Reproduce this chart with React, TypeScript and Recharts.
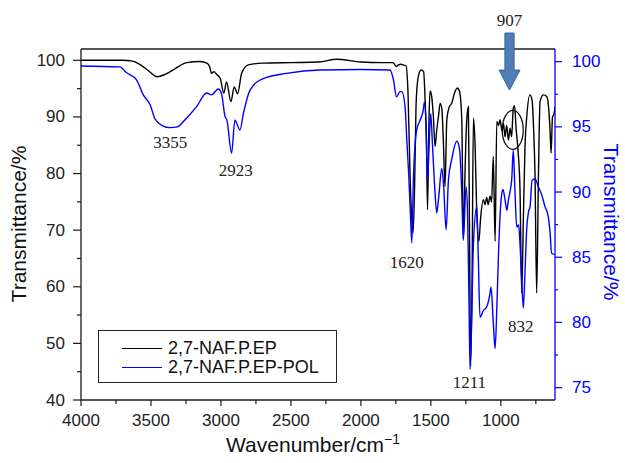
import React from 'react';
import { LineChart, Line, XAxis, YAxis, ReferenceDot, ReferenceLine } from 'recharts';

// wavenumber (cm-1) and transmittance (%)
const blackWn = [
  4000, 3700, 3640, 3580, 3520, 3455, 3400, 3330, 3245, 3150, 3100, 3080, 3067, 3050, 3030, 3005,
  2979, 2960, 2929, 2905, 2881, 2852, 2805, 2700, 2500, 2300, 2174, 2000, 1850, 1771, 1745, 1732,
  1715, 1699, 1677, 1663, 1649, 1634, 1627, 1616, 1606, 1591, 1570, 1552, 1541, 1531, 1524, 1513,
  1506, 1494, 1482, 1470, 1458, 1446, 1434, 1422, 1411, 1399, 1386, 1368, 1351, 1334, 1311, 1295,
  1279, 1268, 1256, 1245, 1232, 1224, 1216, 1206, 1196, 1184, 1172, 1157, 1145, 1125, 1113, 1101,
  1091, 1077, 1066, 1054, 1041, 1029, 1016, 1006, 991, 981, 970, 958, 946, 934, 923, 911,
  902, 891, 877, 863, 851, 839, 827, 815, 792, 777, 766, 756, 744, 731, 720, 696,
  672, 660, 649, 641, 631, 620, 613,
];
const blackT = [
  100, 100, 99.9, 99.3, 98.2, 97.1, 97.5, 98.5, 99.6, 99.8, 99.5, 98.8, 97.7, 98.0, 97.5, 96.8,
  94.2, 96.2, 92.7, 95.3, 94.1, 97.7, 99.2, 99.5, 99.6, 99.7, 100.2, 99.7, 99.6, 99.6, 98.9, 99.2,
  99.3, 99.2, 99.0, 94, 80, 71, 69.5, 78, 92, 97, 98.3, 98, 93, 85, 73.6, 90,
  94.6, 93.6, 90, 84.8, 87.7, 90, 92.4, 91.5, 85.9, 77.7, 89.5, 91.8, 92.4, 94, 95.1, 94.5,
  89.5, 68.5, 80, 88.9, 91.8, 70, 46, 60, 89.8, 85, 73, 68, 72, 75.4, 74.5, 75.8,
  74.5, 76, 75, 83, 68, 89.2, 88.5, 89.5, 87.5, 88.8, 86.5, 88.5, 85.9, 88, 86.5, 91.5,
  92, 88, 84, 77.1, 58.9, 72, 85, 90, 93.9, 93, 88, 80, 58.9, 80, 92.7, 93.9,
  93.6, 92, 88, 83.6, 90, 90.5, 91.8,
];

const blueWn = [
  4000, 3721, 3680, 3603, 3555, 3506, 3471, 3420, 3364, 3310, 3269, 3174, 3102, 3068, 3019, 2997,
  2971, 2957, 2924, 2900, 2864, 2840, 2793, 2698, 2531, 2293, 2000, 1793, 1769, 1745, 1721, 1708,
  1684, 1672, 1659, 1645, 1636, 1625, 1601, 1577, 1554, 1546, 1534, 1525, 1513, 1501, 1488, 1470,
  1458, 1445, 1422, 1409, 1391, 1374, 1351, 1315, 1295, 1281, 1268, 1249, 1238, 1228, 1220, 1209,
  1196, 1172, 1161, 1149, 1125, 1101, 1081, 1070, 1054, 1041, 1029, 1016, 1004, 994, 985, 971,
  957, 947, 935, 922, 911, 899, 886, 873, 863, 852, 839, 827, 815, 802, 791, 777,
  755, 732, 708, 685, 661, 649, 637, 613,
];
const blueT = [
  99.67, 99.6, 99.2, 98.6, 97.45, 96.7, 95.6, 95.1, 94.94, 95.0, 95.4, 96.55, 97.6, 97.45, 97.9, 97.6,
  95.8, 95.5, 92.98, 95.5, 94.76, 96.0, 97.8, 98.7, 99.1, 99.36, 99.4, 99.36, 98.7, 97.3, 97.7, 97.7,
  96.5, 94.0, 91.5, 88, 86.1, 90.9, 94.8, 95.5, 96.3, 96.9, 95, 90.9, 93.5, 96.0, 93.5, 89.9,
  88.4, 89.5, 91.8, 90.5, 87.1, 91, 92.5, 93.9, 93.3, 90.5, 86.3, 90.4, 88.5, 82, 76.4, 80,
  86, 88.9, 85, 80.4, 80.9, 81.2, 82, 82.7, 80, 78.0, 81, 85.5, 88.5, 89.8, 90.2, 89.5,
  88.6, 89.3, 90, 91, 93.2, 90, 87.3, 87.5, 86, 83.5, 81.1, 84, 87.2, 88.5, 88.9, 90.9,
  91.0, 90.4, 89.8, 88.9, 88.1, 87, 85.3, 85.2,
];

const xTicks = [4000, 3750, 3500, 3250, 3000, 2750, 2500, 2250, 2000, 1750, 1500, 1250, 1000, 750];
const leftTicks = [40, 45, 50, 55, 60, 65, 70, 75, 80, 85, 90, 95, 100];
const rightTicks = [75, 77.5, 80, 82.5, 85, 87.5, 90, 92.5, 95, 97.5, 100];

// peak labels, placed in data coordinates of the left axis
const noteText = ['3355', '2923', '1620', '1211', '832'];
const noteWn = [3363, 2894, 1672, 1225, 858];
const noteT = [85.45, 80.5, 64.3, 43.06, 52.95];

const seriesNames = ['2,7-NAF.P.EP', '2,7-NAF.P.EP-POL'];

const blackData = blackWn.map((w, i) => ({ w, t: blackT[i] }));
const blueData = blueWn.map((w, i) => ({ w, t: blueT[i] }));

const SANS = '"Liberation Sans", Arial, sans-serif';
const SERIF = '"Liberation Serif", "Times New Roman", serif';
const INK = '#1a1a1a';
const BLUE = '#0000ff';

const BottomTick = ({ x, y, payload }: any) => {
  const major = payload.value % 500 === 0;
  return (
    <g>
      <line x1={x} y1={y} x2={x} y2={y + (major ? 6 : 4)} stroke={INK} strokeWidth={1.2} />
      {major && (
        <text x={x} y={y + 20} textAnchor="middle" dominantBaseline="central" fontSize={17} fontFamily={SANS} fill="#222">
          {payload.value}
        </text>
      )}
    </g>
  );
};

const LeftTick = ({ x, y, payload }: any) => {
  const major = payload.value % 10 === 0;
  return (
    <g>
      <line x1={x - (major ? 8 : 4)} y1={y} x2={x} y2={y} stroke={INK} strokeWidth={1.2} />
      {major && (
        <text x={x - 16} y={y} textAnchor="end" dominantBaseline="central" fontSize={17} fontFamily={SANS} fill="#222">
          {payload.value}
        </text>
      )}
    </g>
  );
};

const RightTick = ({ x, y, payload }: any) => {
  const major = payload.value % 5 === 0;
  return (
    <g>
      <line x1={x} y1={y} x2={x + (major ? 7 : 3)} y2={y} stroke={BLUE} strokeWidth={1.2} />
      {major && (
        <text x={x + 17} y={y} textAnchor="start" dominantBaseline="central" fontSize={17} fontFamily={SANS} fill={BLUE}>
          {payload.value}
        </text>
      )}
    </g>
  );
};

const noteShape = (text: string) => (p: any) => (
  <text x={p.cx} y={p.cy} textAnchor="middle" dominantBaseline="central" fontSize={17} fontFamily={SERIF} fill="#222">
    {text}
  </text>
);

const ArrowShape = ({ cx, cy }: any) => (
  <g>
    <path
      d={`M${cx - 4.6},${cy - 57} L${cx + 4.6},${cy - 57} L${cx + 4.6},${cy - 20} L${cx + 10.5},${cy - 20} L${cx},${cy} L${cx - 10.5},${cy - 20} L${cx - 4.6},${cy - 20} Z`}
      fill="#4f7db8"
      stroke="#3a6498"
      strokeWidth={1}
    />
    <text x={cx} y={cy - 70} textAnchor="middle" dominantBaseline="central" fontSize={17} fontFamily={SERIF} fill="#222">
      907
    </text>
  </g>
);

const RingShape = ({ cx, cy }: any) => (
  <ellipse cx={cx} cy={cy} rx={10.5} ry={19.5} fill="none" stroke="#111" strokeWidth={1.3} />
);

export default function App() {
  return (
    <div style={{ position: 'absolute', left: 0, top: 0, width: 625, height: 463, background: '#fff', overflow: 'hidden' }}>
      <LineChart width={625} height={463} margin={{ top: 49, right: 20, bottom: 33, left: 31 }}>
        <XAxis
          type="number"
          dataKey="w"
          domain={[613, 4000]}
          reversed
          allowDataOverflow
          ticks={xTicks}
          interval={0}
          height={30}
          tickSize={0}
          tickMargin={0}
          tickLine={false}
          axisLine={{ stroke: INK, strokeWidth: 1.3 }}
          tick={BottomTick}
        />
        <YAxis
          yAxisId="left"
          type="number"
          domain={[40, 102]}
          allowDataOverflow
          ticks={leftTicks}
          interval={0}
          width={50}
          tickSize={0}
          tickMargin={0}
          tickLine={false}
          axisLine={{ stroke: INK, strokeWidth: 1.3 }}
          tick={LeftTick}
        />
        <YAxis
          yAxisId="right"
          orientation="right"
          type="number"
          domain={[74.05, 100.97]}
          allowDataOverflow
          ticks={rightTicks}
          interval={0}
          width={50}
          tickSize={0}
          tickMargin={0}
          tickLine={false}
          axisLine={{ stroke: BLUE, strokeWidth: 1.3 }}
          tick={RightTick}
        />
        <ReferenceLine yAxisId="left" y={102} stroke={INK} strokeWidth={1.3} />
        <Line
          yAxisId="left"
          data={blackData}
          dataKey="t"
          name={seriesNames[0]}
          type="monotone"
          stroke="#000"
          strokeWidth={1.4}
          dot={false}
          isAnimationActive={false}
        />
        <Line
          yAxisId="right"
          data={blueData}
          dataKey="t"
          name={seriesNames[1]}
          type="monotone"
          stroke={BLUE}
          strokeWidth={1.4}
          dot={false}
          isAnimationActive={false}
        />
        {noteText.map((txt, i) => (
          <ReferenceDot key={txt} yAxisId="left" x={noteWn[i]} y={noteT[i]} r={0} shape={noteShape(txt)} />
        ))}
        <ReferenceDot yAxisId="left" x={938} y={94.75} r={0} shape={ArrowShape} />
        <ReferenceDot yAxisId="left" x={915} y={87.7} r={0} shape={RingShape} />
      </LineChart>

      {/* legend box */}
      <div
        style={{
          position: 'absolute', left: 98, top: 330, width: 239, height: 53, boxSizing: 'border-box',
          border: '1px solid #222', background: '#fff', fontFamily: SANS, fontSize: 18, color: '#111',
        }}
      >
        {[[seriesNames[0], '#000'], [seriesNames[1], BLUE]].map(([label, color], i) => (
          <div key={label} style={{ position: 'absolute', left: 0, top: 7 + i * 19, height: 20, width: '100%' }}>
            <div style={{ position: 'absolute', left: 23, top: 10, width: 40, height: 0, borderTop: `1.4px solid ${color}` }} />
            <div style={{ position: 'absolute', left: 69, top: 0, lineHeight: '20px', whiteSpace: 'nowrap' }}>{label}</div>
          </div>
        ))}
      </div>

      {/* axis titles */}
      <div
        style={{
          position: 'absolute', left: 19 - 110, top: 224 - 12, width: 220, height: 24, lineHeight: '24px',
          textAlign: 'center', transform: 'rotate(-90deg)', fontFamily: SANS, fontSize: 21, color: '#111',
        }}
      >
        Transmittance/%
      </div>
      <div
        style={{
          position: 'absolute', left: 611 - 110, top: 222 - 12, width: 220, height: 24, lineHeight: '24px',
          textAlign: 'center', transform: 'rotate(90deg)', fontFamily: SANS, fontSize: 21, color: BLUE,
        }}
      >
        Transmittance/%
      </div>
      <div
        style={{
          position: 'absolute', left: 313 - 150, top: 432, width: 300, height: 26, lineHeight: '26px',
          textAlign: 'center', fontFamily: SANS, fontSize: 21, color: '#111',
        }}
      >
        Wavenumber/cm<sup style={{ fontSize: 14, lineHeight: 0 }}>−1</sup>
      </div>
    </div>
  );
}
